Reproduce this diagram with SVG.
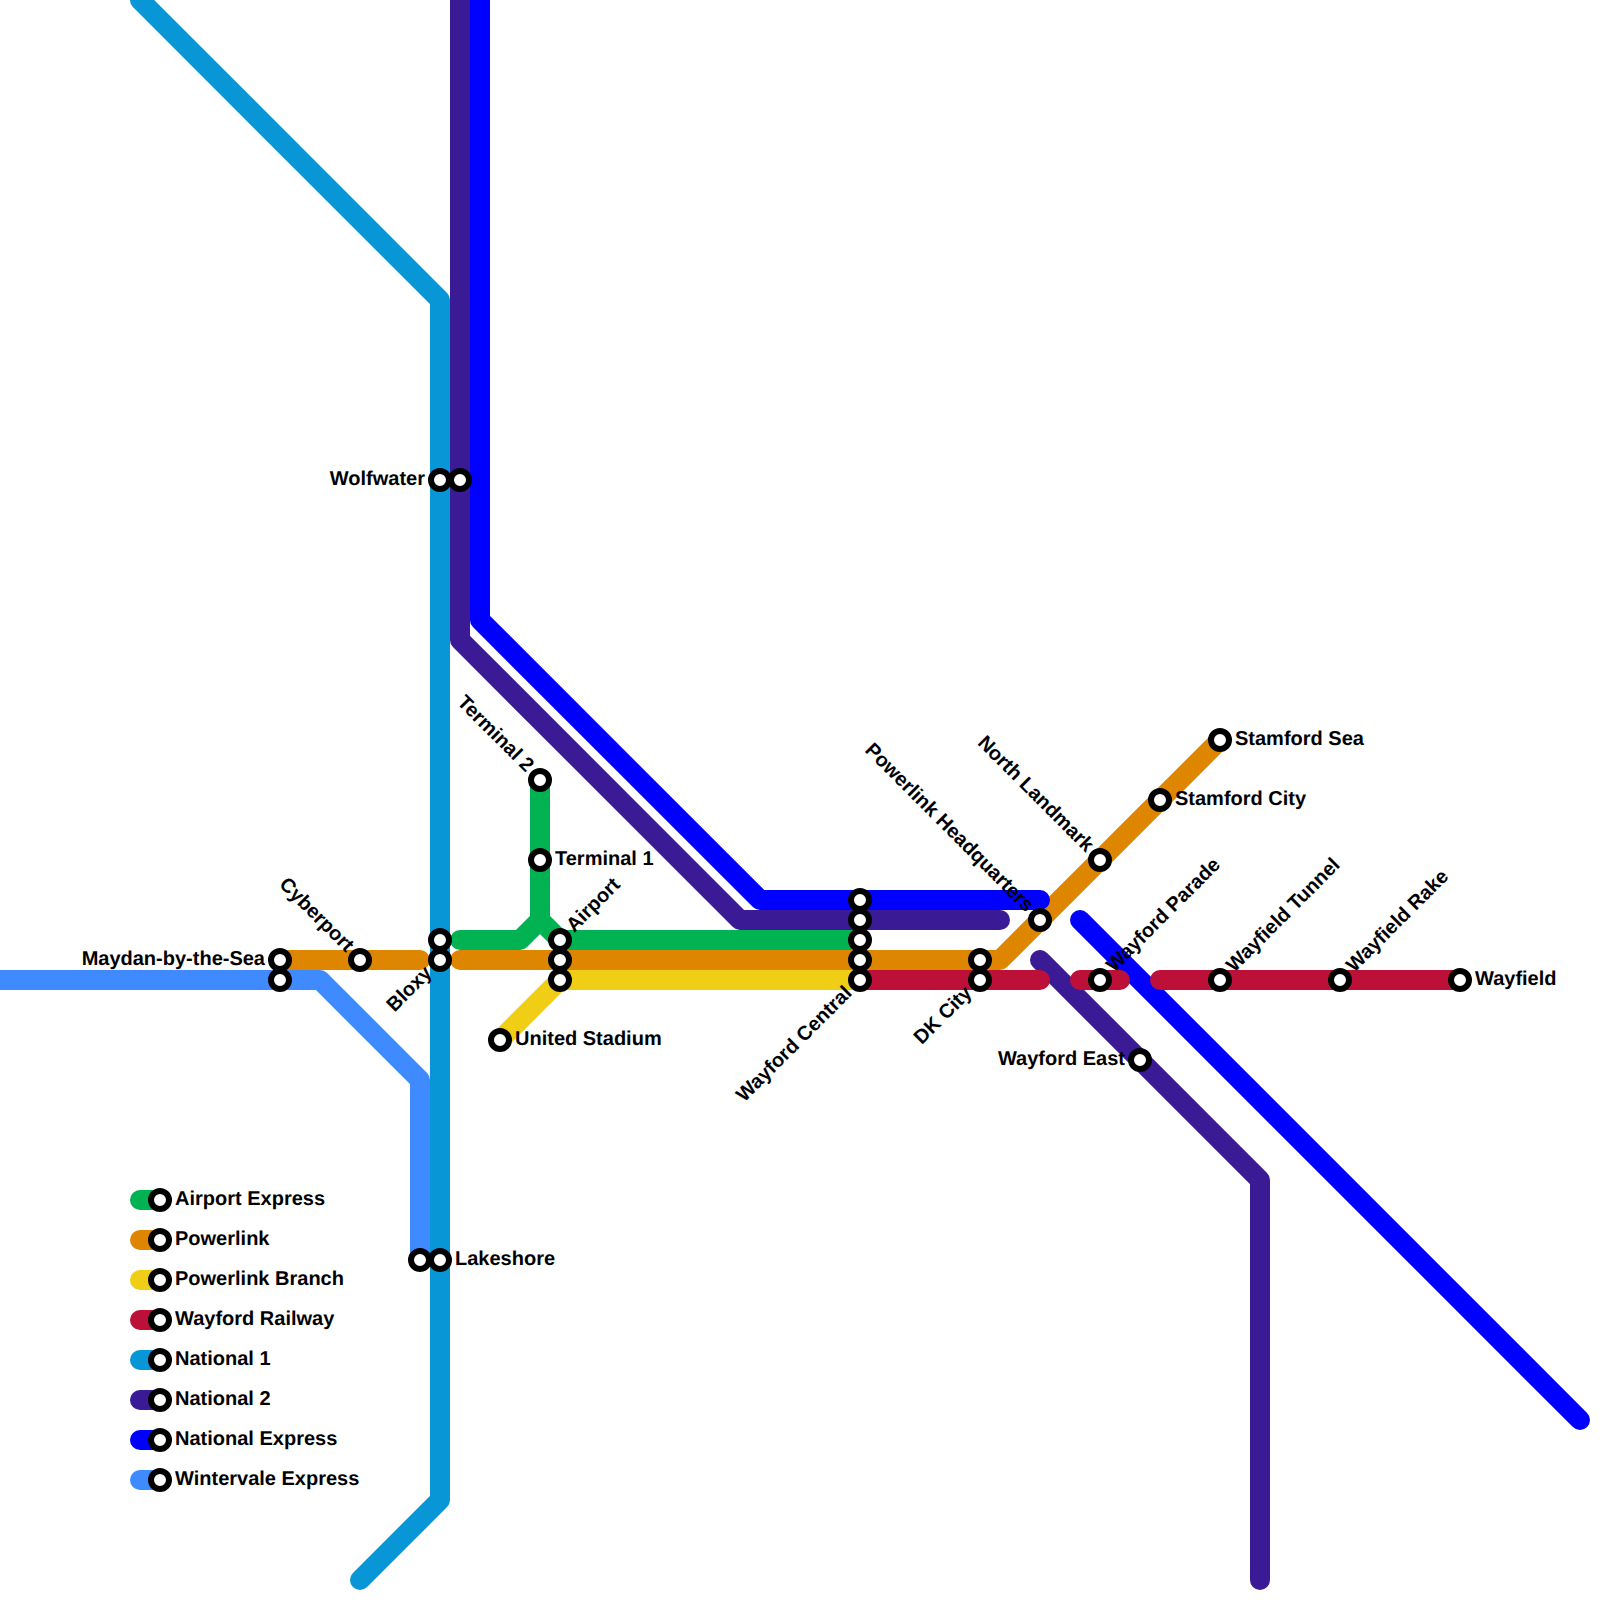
<svg xmlns="http://www.w3.org/2000/svg" width="1600" height="1600" viewBox="0 0 1600 1600">
<style>
.l{fill:none;stroke-width:20;stroke-linecap:round;stroke-linejoin:round}
.ae{stroke:#00b251}.pl{stroke:#df8600}.pb{stroke:#f0ce15}.wr{stroke:#bd1038}.n1{stroke:#0896d7}.n2{stroke:#3a1a95}.ne{stroke:#0000ff}.we{stroke:#3f8aff}
.s{fill:#fff;stroke:#000;stroke-width:6}
text{font-family:"Liberation Sans",Arial,sans-serif;font-weight:700;font-size:20px;fill:#000;text-rendering:geometricPrecision}
.e{text-anchor:end}
</style>
<rect width="1600" height="1600" fill="#fff"/>
<g id="connectors">
<path class="l ae" d="M860 940H560L540 920V780M540 920L520 940H460"/>
<path class="l ae" d="M140 1200H160"/>
<path class="l pl" d="M280 960H420M460 960H1000L1220 740"/>
<path class="l pl" d="M140 1240H160"/>
<path class="l pb" d="M500 1040L560 980H860"/>
<path class="l pb" d="M140 1280H160"/>
<path class="l n1" d="M140 0L440 300V1500L360 1580"/>
<path class="l n1" d="M140 1360H160"/>
<path class="l n2" d="M460 0V640L740 920H1000M1040 960L1260 1180V1580"/>
<path class="l n2" d="M140 1400H160"/>
<path class="l ne" d="M480 0V620L760 900H1040M1080 920L1580 1420"/>
<path class="l ne" d="M140 1440H160"/>
<path class="l we" d="M0 980H320L420 1080V1260"/>
<path class="l we" d="M140 1480H160"/>
<path class="l wr" d="M860 980H1040M1080 980H1120M1160 980H1460"/>
<path class="l wr" d="M140 1320H160"/>
</g>
<g id="st-wolfwater-1"><circle class="s" cx="440" cy="480" r="9"/><text class="e" x="425" y="485">Wolfwater</text></g>
<g id="st-wolfwater-2"><circle class="s" cx="460" cy="480" r="9"/></g>
<g id="st-terminal-2"><circle class="s" cx="540" cy="780" r="9"/><text class="e" transform="translate(540 780) rotate(45)" x="-15" y="5">Terminal 2</text></g>
<g id="st-terminal-1"><circle class="s" cx="540" cy="860" r="9"/><text x="555" y="865">Terminal 1</text></g>
<g id="st-airport-1"><circle class="s" cx="560" cy="940" r="9"/><text transform="translate(560 940) rotate(-45)" x="15" y="5">Airport</text></g>
<g id="st-airport-2"><circle class="s" cx="560" cy="960" r="9"/></g>
<g id="st-airport-3"><circle class="s" cx="560" cy="980" r="9"/></g>
<g id="st-united-stadium"><circle class="s" cx="500" cy="1040" r="9"/><text x="515" y="1045">United Stadium</text></g>
<g id="st-maydan-1"><circle class="s" cx="280" cy="960" r="9"/><text class="e" x="265" y="965">Maydan-by-the-Sea</text></g>
<g id="st-maydan-2"><circle class="s" cx="280" cy="980" r="9"/></g>
<g id="st-cyberport"><circle class="s" cx="360" cy="960" r="9"/><text class="e" transform="translate(360 960) rotate(45)" x="-15" y="5">Cyberport</text></g>
<g id="st-bloxy-1"><circle class="s" cx="440" cy="940" r="9"/></g>
<g id="st-bloxy-2"><circle class="s" cx="440" cy="960" r="9"/><text class="e" transform="translate(440 960) rotate(-45)" x="-15" y="5">Bloxy</text></g>
<g id="st-lakeshore-1"><circle class="s" cx="420" cy="1260" r="9"/></g>
<g id="st-lakeshore-2"><circle class="s" cx="440" cy="1260" r="9"/><text x="455" y="1265">Lakeshore</text></g>
<g id="st-central-1"><circle class="s" cx="860" cy="900" r="9"/></g>
<g id="st-central-2"><circle class="s" cx="860" cy="920" r="9"/></g>
<g id="st-central-3"><circle class="s" cx="860" cy="940" r="9"/></g>
<g id="st-central-4"><circle class="s" cx="860" cy="960" r="9"/></g>
<g id="st-central-5"><circle class="s" cx="860" cy="980" r="9"/><text class="e" transform="translate(860 980) rotate(-45)" x="-15" y="5">Wayford Central</text></g>
<g id="st-dk-1"><circle class="s" cx="980" cy="960" r="9"/></g>
<g id="st-dk-2"><circle class="s" cx="980" cy="980" r="9"/><text class="e" transform="translate(980 980) rotate(-45)" x="-15" y="5">DK City</text></g>
<g id="st-hq"><circle class="s" cx="1040" cy="920" r="9"/><text class="e" transform="translate(1040 920) rotate(45)" x="-15" y="5">Powerlink Headquarters</text></g>
<g id="st-north-landmark"><circle class="s" cx="1100" cy="860" r="9"/><text class="e" transform="translate(1100 860) rotate(45)" x="-15" y="5">North Landmark</text></g>
<g id="st-stamford-city"><circle class="s" cx="1160" cy="800" r="9"/><text x="1175" y="805">Stamford City</text></g>
<g id="st-stamford-sea"><circle class="s" cx="1220" cy="740" r="9"/><text x="1235" y="745">Stamford Sea</text></g>
<g id="st-wayford-parade"><circle class="s" cx="1100" cy="980" r="9"/><text transform="translate(1100 980) rotate(-45)" x="15" y="5">Wayford Parade</text></g>
<g id="st-wayford-east"><circle class="s" cx="1140" cy="1060" r="9"/><text class="e" x="1125" y="1065">Wayford East</text></g>
<g id="st-wayfield-tunnel"><circle class="s" cx="1220" cy="980" r="9"/><text transform="translate(1220 980) rotate(-45)" x="15" y="5">Wayfield Tunnel</text></g>
<g id="st-wayfield-rake"><circle class="s" cx="1340" cy="980" r="9"/><text transform="translate(1340 980) rotate(-45)" x="15" y="5">Wayfield Rake</text></g>
<g id="st-wayfield"><circle class="s" cx="1460" cy="980" r="9"/><text x="1475" y="985">Wayfield</text></g>
<g id="legend-airport-express"><circle class="s" cx="160" cy="1200" r="9"/><text x="175" y="1205">Airport Express</text></g>
<g id="legend-powerlink"><circle class="s" cx="160" cy="1240" r="9"/><text x="175" y="1245">Powerlink</text></g>
<g id="legend-powerlink-branch"><circle class="s" cx="160" cy="1280" r="9"/><text x="175" y="1285">Powerlink Branch</text></g>
<g id="legend-wayford-railway"><circle class="s" cx="160" cy="1320" r="9"/><text x="175" y="1325">Wayford Railway</text></g>
<g id="legend-national-1"><circle class="s" cx="160" cy="1360" r="9"/><text x="175" y="1365">National 1</text></g>
<g id="legend-national-2"><circle class="s" cx="160" cy="1400" r="9"/><text x="175" y="1405">National 2</text></g>
<g id="legend-national-express"><circle class="s" cx="160" cy="1440" r="9"/><text x="175" y="1445">National Express</text></g>
<g id="legend-wintervale-express"><circle class="s" cx="160" cy="1480" r="9"/><text x="175" y="1485">Wintervale Express</text></g>
</svg>
